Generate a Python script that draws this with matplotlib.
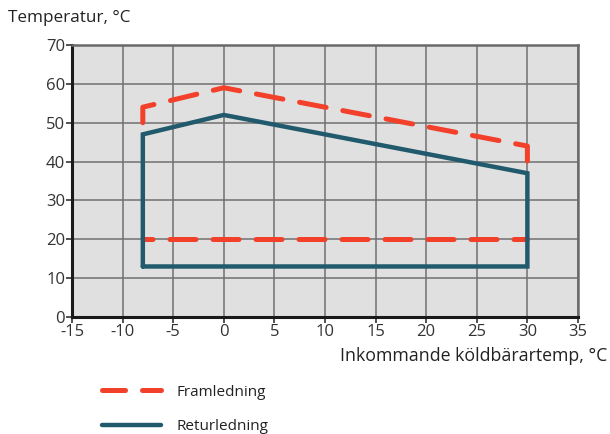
import matplotlib.pyplot as plt
from matplotlib.lines import Line2D

# outdoor brine temperature (x) vs. supply/return limits (y)
fram_top_x = [-8, -8, 0, 30, 30]
fram_top_y = [50, 54, 59, 44, 40]
fram_low_x = [-8, 30]
fram_low_y = [20, 20]
retur_x = [-8, -8, 0, 30, 30, -8]
retur_y = [13, 47, 52, 37, 13, 13]
x_ticks = [-15, -10, -5, 0, 5, 10, 15, 20, 25, 30, 35]
y_ticks = [0, 10, 20, 30, 40, 50, 60, 70]

RED = "#f2402a"
BLUE = "#205a6c"

plt.rcParams['font.family'] = ['Open Sans', 'DejaVu Sans']
plt.rcParams['axes.unicode_minus'] = False

fig = plt.figure(figsize=(6.1, 4.34), dpi=100)
ax = fig.add_axes([0.118, 0.2696, 0.8295, 0.6267])
ax.set_facecolor("#e0e0e0")

ax.plot(fram_top_x, fram_top_y, color=RED, lw=3.6, ls=(0, (5.4, 3.4)),
        dash_capstyle='round', zorder=3)
ax.plot(fram_low_x, fram_low_y, color=RED, lw=3.6, ls=(3.3, (5.2, 3.4)),
        dash_capstyle='round', zorder=3)
ax.plot(retur_x, retur_y, color=BLUE, lw=3.2, solid_joinstyle='miter',
        solid_capstyle='round', zorder=4)

ax.set_xlim(-15, 35)
ax.set_ylim(0, 70)
ax.set_xticks(x_ticks)
ax.set_yticks(y_ticks)
ax.grid(True, color="#707070", lw=1.1)
ax.set_axisbelow(True)

for side in ("left", "bottom"):
    ax.spines[side].set_color("#1a1a1a")
    ax.spines[side].set_linewidth(2.2)
for side in ("top", "right"):
    ax.spines[side].set_color("#6a6a6a")
    ax.spines[side].set_linewidth(1.8)

ax.tick_params(axis='both', direction='out', length=4, width=1.2, color="#333333",
               labelsize=12, labelcolor="#333333", pad=1)

fig.text(607 / 610, 1 - 356 / 434, "Inkommande köldbärartemp, °C", fontsize=12.8,
         color="#222222", ha='right', va='center')
fig.text(8 / 610, 1 - 18 / 434, "Temperatur, °C", fontsize=12.3, color="#222222",
         ha='left', va='center')

handles = [
    Line2D([], [], color=RED, lw=3.6, dashes=(4.6, 3.4), dash_capstyle='round'),
    Line2D([], [], color=BLUE, lw=3.2, solid_capstyle='round'),
]
fig.legend(handles, ["Framledning", "Returledning"], loc='upper left',
           bbox_to_anchor=(88 / 610, 1 - 371 / 434), frameon=False,
           fontsize=11, handlelength=3.9, handletextpad=1.0, labelspacing=1.25,
           labelcolor="#222222")

fig.savefig("out.png", dpi=100)
